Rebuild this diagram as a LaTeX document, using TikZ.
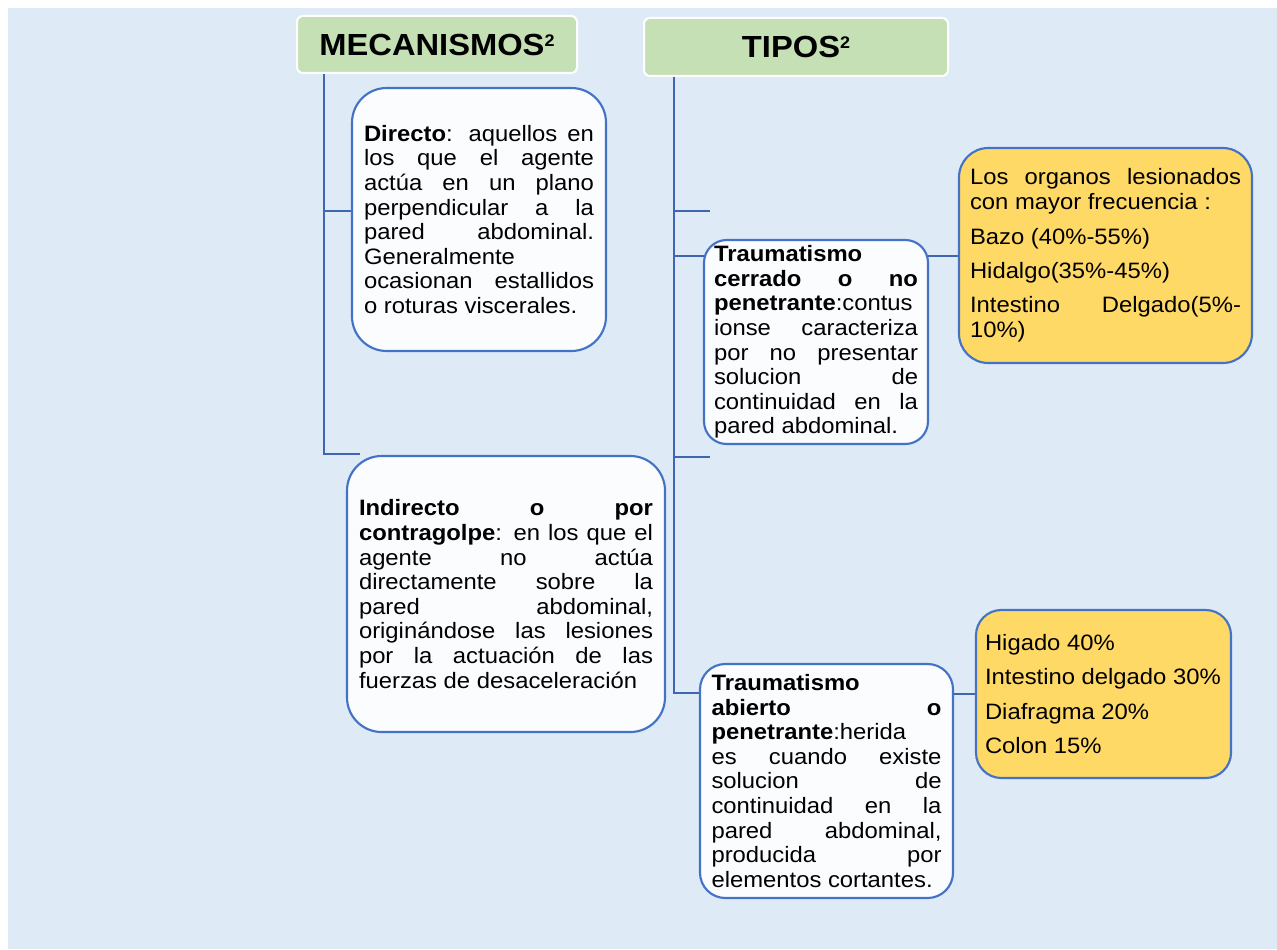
\documentclass[tikz,border=0pt]{standalone}
\usepackage{fontspec}
\setmainfont{Liberation Sans}[FakeStretch=1.07]
\usetikzlibrary{backgrounds}

\definecolor{pageblue}{HTML}{DEEBF7}
\definecolor{titlegreen}{HTML}{C5E0B4}
\definecolor{boxblue}{HTML}{4472C4}
\definecolor{lineblue}{HTML}{3F66B0}
\definecolor{boxwhite}{HTML}{FAFCFE}
\definecolor{gold}{HTML}{FFD966}

% one justified line of a paragraph
\newcommand\jline[1]{\makebox[\linewidth][s]{#1}\\}
\newcommand\bodyfont{\fontsize{16.7}{18.45}\selectfont}
% small raised reference mark in the headings
\newcommand\refmark[1]{\raisebox{6.6pt}{\fontsize{12.6}{12.6}\selectfont #1}}

\begin{document}
\begin{tikzpicture}[x=0.75pt,y=-0.75pt,
  titlebox/.style={draw=white,line width=1.5pt,fill=titlegreen,rounded corners=4.5pt,
    inner sep=0pt,font=\bfseries\fontsize{22.9}{27}\selectfont},
  notebox/.style={draw=boxblue,line width=1.6pt,fill=boxwhite,inner sep=0pt,font=\bodyfont},
  databox/.style={notebox,fill=gold},
  link/.style={draw=lineblue,line width=1.8pt}]
\useasboundingbox (0,0) rectangle (1277,949);

% headings
\node[titlebox,minimum width=210pt,minimum height=42.75pt] (mec) at (437,44.5)
  {MECANISMOS\refmark{2}};
\node[titlebox,minimum width=228pt,minimum height=43.5pt] (tipos) at (796,47)
  {TIPOS\refmark{2}};

% mechanisms
\node[notebox,rounded corners=26pt,minimum width=190.5pt,minimum height=197.25pt]
  (directo) at (479,219.5) {\parbox{172.5pt}{%
\jline{\textbf{Directo}: aquellos en}
\jline{los que el agente}
\jline{actúa en un plano}
\jline{perpendicular a la}
\jline{pared abdominal.}
Generalmente\\
\jline{ocasionan estallidos}
o roturas viscerales.}};

\node[notebox,rounded corners=26pt,minimum width=238.5pt,minimum height=207pt]
  (indirecto) at (506,594) {\parbox{220.5pt}{%
\jline{\textbf{Indirecto o por}}
\jline{\textbf{contragolpe}: en los que el}
\jline{agente no actúa}
\jline{directamente sobre la}
\jline{pared abdominal,}
\jline{originándose las lesiones}
\jline{por la actuación de las}
fuerzas de desaceleración}};

% types
\node[notebox,rounded corners=17pt,minimum width=168pt,minimum height=153pt]
  (cerrado) at (816,342) {\parbox{153pt}{%
\textbf{Traumatismo}\\
\jline{\textbf{cerrado o no}}
\textbf{penetrante}:contus\\
\jline{ionse caracteriza}
\jline{por no presentar}
\jline{solucion de}
\jline{continuidad en la}
pared abdominal.}};

\node[notebox,rounded corners=19pt,minimum width=189.75pt,minimum height=175.5pt]
  (abierto) at (826.5,781) {\parbox{172.5pt}{%
\textbf{Traumatismo}\\
\jline{\textbf{abierto o}}
\textbf{penetrante}:herida\\
\jline{es cuando existe}
\jline{solucion de}
\jline{continuidad en la}
\jline{pared abdominal,}
\jline{producida por}
elementos cortantes.}};

% injured organs
\node[databox,rounded corners=22pt,minimum width=219.75pt,minimum height=161.25pt]
  (organos) at (1105.5,255.5) {\parbox{203.25pt}{%
\jline{Los organos lesionados}
con mayor frecuencia :\\[7.4pt]
Bazo (40\%-55\%)\\[7.4pt]
Hidalgo(35\%-45\%)\\[7.4pt]
\jline{Intestino Delgado(5\%-}
10\%)}};

\node[databox,rounded corners=19pt,minimum width=191.25pt,minimum height=126pt]
  (frecuencia) at (1103.5,694) {\parbox{177.75pt}{%
Higado 40\%\\[7.4pt]
Intestino delgado 30\%\\[7.4pt]
Diafragma 20\%\\[7.4pt]
Colon 15\%}};

% tree connectors
\coordinate (mecspine) at (324,454);
\coordinate (mecend) at (360,454);
\coordinate (dirtap) at (352,211);
\coordinate (tipspine) at (674,693);
\coordinate (tapA) at (710,211);
\coordinate (certap) at (704,256);
\coordinate (tapB) at (710,457);

\begin{pgfonlayer}{background}
\fill[pageblue] (8,8) rectangle (1277,949);
\draw[link] (mecspine |- mec.south) -- (mecspine) -- (mecend);
\draw[link] (mecspine |- dirtap) -- (directo.west |- dirtap);
\draw[link] (tipspine |- tipos.south) -- (tipspine) -- (abierto.center |- tipspine);
\draw[link] (tipspine |- tapA) -- (tapA);
\draw[link] (tipspine |- certap) -- (cerrado.center |- certap);
\draw[link] (tipspine |- tapB) -- (tapB);
\draw[link] (cerrado.center |- certap) -- (organos.west |- certap);
\draw[link] (abierto.center |- frecuencia.west) -- (frecuencia.west);
\end{pgfonlayer}
\end{tikzpicture}
\end{document}
